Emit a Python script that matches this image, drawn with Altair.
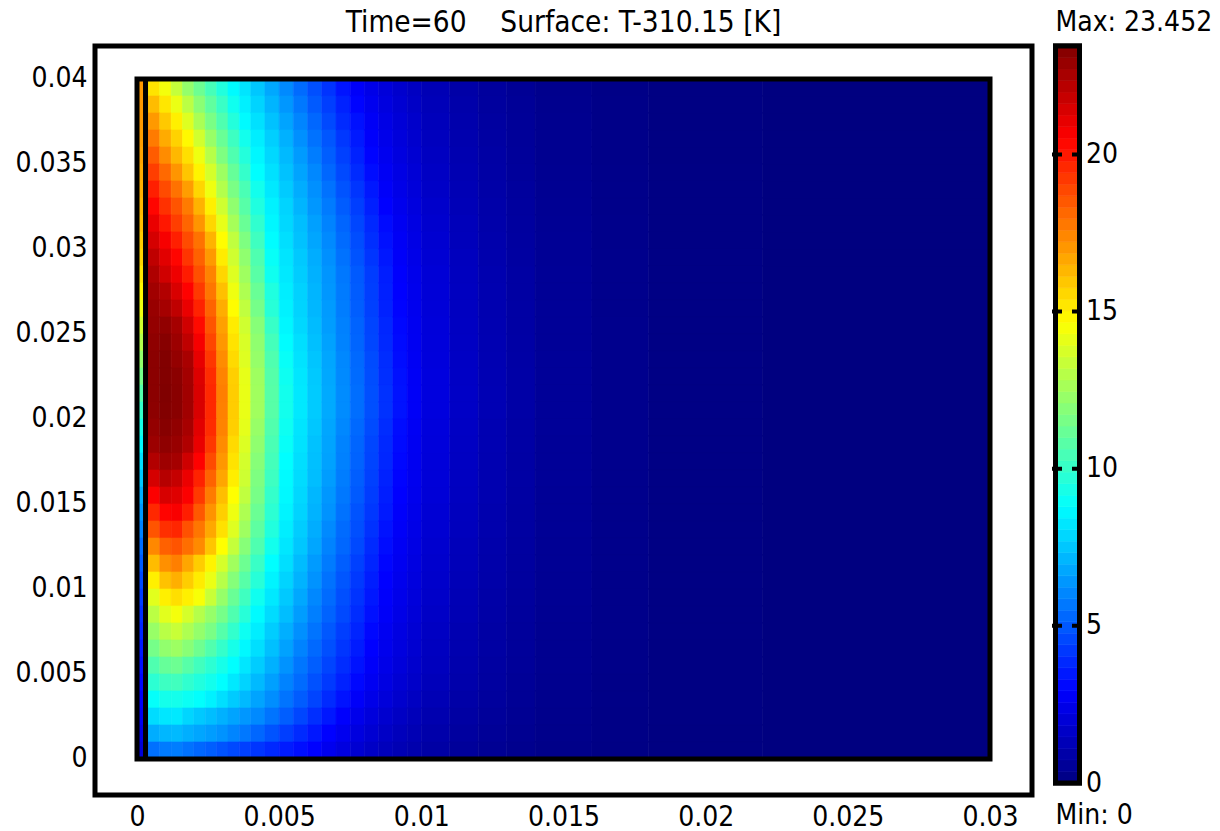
import altair as alt
import pandas as pd

# ---------------- data ----------------
# column edges of the temperature field (m); the strip 0..0.0003 is a separate layer
X_EDGES = [0.0003, 0.0008, 0.0012, 0.0016, 0.0020, 0.0024, 0.0028, 0.0032, 0.0036, 0.0040,
           0.0045, 0.0050, 0.0055, 0.0060, 0.0065, 0.0070, 0.0075, 0.0080, 0.0085, 0.0090,
           0.0095, 0.0100, 0.0110, 0.0120, 0.0130, 0.0140, 0.0160, 0.0180, 0.0220, 0.0300]
# row edges (m), top to bottom
Y_EDGES = [0.040, 0.039, 0.038, 0.037, 0.036, 0.035, 0.034, 0.033, 0.032, 0.031,
           0.030, 0.029, 0.028, 0.027, 0.026, 0.025, 0.024, 0.023, 0.022, 0.021,
           0.020, 0.019, 0.018, 0.017, 0.016, 0.015, 0.014, 0.013, 0.012, 0.011,
           0.010, 0.009, 0.008, 0.007, 0.006, 0.005, 0.004, 0.003, 0.002, 0.001, 0.000]

# T-310.15 [K] per cell, one list per row (row centre y in the name), top to bottom
T_0395 = [15.3, 14.4, 13.3, 12.2, 11.3, 10.4, 9.55, 8.7, 8.2, 7.5, 6.8, 6.1, 5.4, 4.75, 4.1, 3.4, 2.8, 2.41, 2.07, 1.78, 1.53, 1.22, 0.9, 0.66, 0.49, 0.31, 0.17, 0.07, 0.01]
T_0385 = [16.2, 15.2, 14.2, 13.1, 12.0, 11.0, 10.1, 9.15, 8.45, 7.8, 7.1, 6.4, 5.7, 5.0, 4.35, 3.7, 3.0, 2.56, 2.2, 1.89, 1.62, 1.29, 0.96, 0.7, 0.52, 0.33, 0.18, 0.07, 0.01]
T_0375 = [17.0, 15.9, 15.0, 13.9, 12.7, 11.6, 10.6, 9.6, 8.7, 8.1, 7.4, 6.7, 6.0, 5.3, 4.6, 3.9, 3.3, 2.72, 2.34, 2.01, 1.73, 1.37, 1.01, 0.75, 0.55, 0.35, 0.19, 0.08, 0.01]
T_0365 = [17.7, 16.6, 15.7, 14.8, 13.6, 12.3, 11.2, 10.2, 9.2, 8.4, 7.7, 7.0, 6.25, 5.55, 4.9, 4.2, 3.5, 2.84, 2.44, 2.1, 1.8, 1.44, 1.06, 0.78, 0.58, 0.37, 0.2, 0.08, 0.01]
T_0355 = [18.4, 17.3, 16.3, 15.4, 14.3, 13.0, 11.7, 10.6, 9.6, 8.6, 7.9, 7.2, 6.5, 5.8, 5.1, 4.4, 3.7, 3.0, 2.56, 2.2, 1.89, 1.5, 1.11, 0.82, 0.61, 0.38, 0.21, 0.08, 0.01]
T_0345 = [19.1, 18.1, 17.1, 16.0, 14.9, 13.7, 12.4, 11.15, 10.0, 8.8, 8.1, 7.4, 6.7, 6.05, 5.3, 4.6, 3.9, 3.2, 2.68, 2.3, 1.98, 1.58, 1.16, 0.86, 0.63, 0.4, 0.22, 0.09, 0.01]
T_0335 = [19.8, 18.8, 17.9, 16.9, 15.6, 14.3, 12.9, 11.6, 10.5, 9.2, 8.3, 7.6, 6.9, 6.25, 5.55, 4.85, 4.15, 3.45, 2.8, 2.41, 2.07, 1.65, 1.22, 0.9, 0.66, 0.42, 0.23, 0.09, 0.01]
T_0325 = [20.4, 19.4, 18.6, 17.7, 16.4, 15.0, 13.55, 12.1, 10.8, 9.5, 8.5, 7.8, 7.1, 6.4, 5.75, 5.05, 4.35, 3.65, 2.93, 2.52, 2.16, 1.73, 1.27, 0.94, 0.69, 0.44, 0.24, 0.1, 0.01]
T_0315 = [21.0, 20.0, 19.1, 18.2, 17.1, 15.6, 14.1, 12.6, 11.2, 9.9, 8.6, 7.9, 7.3, 6.6, 5.95, 5.25, 4.55, 3.85, 3.15, 2.64, 2.26, 1.8, 1.33, 0.98, 0.72, 0.46, 0.25, 0.1, 0.01]
T_0305 = [21.5, 20.7, 19.8, 18.8, 17.9, 16.4, 14.7, 13.2, 11.7, 10.25, 8.75, 8.05, 7.4, 6.75, 6.1, 5.4, 4.7, 4.0, 3.3, 2.72, 2.34, 1.86, 1.37, 1.01, 0.75, 0.48, 0.26, 0.1, 0.01]
T_0295 = [22.0, 21.2, 20.4, 19.3, 18.3, 17.0, 15.1, 13.55, 12.1, 10.6, 8.95, 8.2, 7.55, 6.9, 6.25, 5.55, 4.85, 4.15, 3.45, 2.8, 2.41, 1.92, 1.42, 1.04, 0.77, 0.49, 0.27, 0.11, 0.01]
T_0285 = [22.4, 21.6, 20.9, 19.9, 18.7, 17.5, 15.6, 13.9, 12.45, 10.85, 9.15, 8.3, 7.65, 7.0, 6.35, 5.7, 5.0, 4.3, 3.6, 2.88, 2.48, 1.98, 1.46, 1.08, 0.8, 0.51, 0.28, 0.11, 0.01]
T_0275 = [22.7, 22.3, 21.4, 20.5, 19.2, 17.8, 16.1, 14.3, 12.8, 11.2, 9.5, 8.4, 7.75, 7.1, 6.4, 5.75, 5.05, 4.35, 3.65, 2.93, 2.52, 2.01, 1.48, 1.1, 0.81, 0.51, 0.28, 0.11, 0.01]
T_0265 = [22.9, 22.6, 22.0, 21.0, 19.75, 18.25, 16.55, 14.7, 13.2, 11.5, 9.7, 8.5, 7.8, 7.15, 6.5, 5.8, 5.1, 4.4, 3.7, 3.0, 2.56, 2.04, 1.5, 1.11, 0.82, 0.52, 0.28, 0.11, 0.01]
T_0255 = [23.0, 23.05, 22.6, 21.6, 20.3, 18.6, 16.85, 15.1, 13.55, 11.9, 10.05, 8.6, 7.9, 7.25, 6.55, 5.9, 5.2, 4.5, 3.8, 3.1, 2.6, 2.07, 1.53, 1.13, 0.83, 0.53, 0.29, 0.12, 0.01]
T_0245 = [23.1, 23.3, 22.8, 22.0, 20.7, 18.9, 17.05, 15.3, 13.75, 12.1, 10.35, 8.75, 8.05, 7.35, 6.65, 5.95, 5.25, 4.55, 3.85, 3.15, 2.64, 2.1, 1.55, 1.15, 0.85, 0.54, 0.29, 0.12, 0.01]
T_0235 = [23.2, 23.4, 23.0, 22.5, 21.05, 19.25, 17.3, 15.5, 13.9, 12.25, 10.6, 8.95, 8.15, 7.45, 6.75, 6.05, 5.35, 4.65, 3.95, 3.2, 2.68, 2.13, 1.58, 1.16, 0.86, 0.55, 0.3, 0.12, 0.01]
T_0225 = [23.2, 23.4, 23.2, 22.65, 21.3, 19.5, 17.5, 15.75, 14.1, 12.45, 10.75, 9.1, 8.25, 7.55, 6.8, 6.1, 5.4, 4.7, 4.0, 3.3, 2.72, 2.16, 1.6, 1.18, 0.87, 0.55, 0.3, 0.12, 0.01]
T_0215 = [23.2, 23.45, 23.25, 22.7, 21.4, 19.6, 17.6, 15.8, 14.15, 12.5, 10.8, 9.2, 8.3, 7.6, 6.85, 6.15, 5.45, 4.75, 4.05, 3.35, 2.75, 2.17, 1.61, 1.19, 0.88, 0.56, 0.3, 0.12, 0.01]
T_0205 = [23.15, 23.4, 23.25, 22.7, 21.4, 19.6, 17.55, 15.8, 14.15, 12.5, 10.8, 9.2, 8.3, 7.6, 6.85, 6.15, 5.45, 4.75, 4.05, 3.35, 2.75, 2.17, 1.61, 1.19, 0.88, 0.56, 0.3, 0.12, 0.01]
T_0195 = [23.0, 23.3, 23.05, 22.55, 21.2, 19.5, 17.5, 15.75, 14.05, 12.3, 10.65, 9.1, 8.2, 7.5, 6.75, 6.05, 5.35, 4.65, 3.95, 3.2, 2.68, 2.13, 1.58, 1.16, 0.86, 0.55, 0.3, 0.12, 0.01]
T_0185 = [22.8, 23.1, 22.9, 22.35, 21.0, 19.25, 17.3, 15.5, 13.85, 12.1, 10.5, 8.95, 8.15, 7.4, 6.7, 5.95, 5.25, 4.55, 3.85, 3.15, 2.64, 2.1, 1.55, 1.15, 0.85, 0.54, 0.29, 0.12, 0.01]
T_0175 = [22.3, 22.75, 22.6, 21.65, 20.5, 18.8, 17.05, 15.3, 13.65, 11.9, 10.35, 8.8, 8.05, 7.35, 6.65, 5.9, 5.2, 4.5, 3.8, 3.1, 2.6, 2.07, 1.53, 1.13, 0.83, 0.53, 0.29, 0.12, 0.01]
T_0165 = [21.5, 22.2, 21.85, 20.95, 19.75, 18.25, 16.7, 15.05, 13.5, 11.7, 10.2, 8.7, 8.0, 7.3, 6.55, 5.8, 5.1, 4.4, 3.7, 3.0, 2.56, 2.04, 1.5, 1.11, 0.82, 0.52, 0.28, 0.11, 0.01]
T_0155 = [20.6, 21.45, 21.25, 20.6, 19.2, 17.7, 16.15, 14.65, 13.2, 11.55, 10.0, 8.65, 7.9, 7.15, 6.4, 5.7, 5.0, 4.3, 3.6, 2.93, 2.52, 2.01, 1.48, 1.1, 0.81, 0.51, 0.28, 0.11, 0.01]
T_0145 = [19.6, 20.45, 20.65, 19.85, 18.5, 17.15, 15.75, 14.3, 12.8, 11.25, 9.8, 8.55, 7.8, 7.05, 6.3, 5.55, 4.85, 4.2, 3.5, 2.84, 2.44, 1.95, 1.44, 1.06, 0.79, 0.5, 0.27, 0.11, 0.01]
T_0135 = [18.6, 19.45, 19.65, 18.65, 17.8, 16.65, 15.35, 13.9, 12.45, 10.95, 9.55, 8.4, 7.65, 6.9, 6.1, 5.4, 4.75, 4.05, 3.35, 2.76, 2.37, 1.89, 1.4, 1.03, 0.76, 0.48, 0.26, 0.1, 0.01]
T_0125 = [17.4, 18.3, 18.6, 18.0, 17.35, 16.0, 14.65, 13.3, 11.9, 10.6, 9.2, 8.25, 7.5, 6.75, 5.95, 5.3, 4.6, 3.9, 3.2, 2.68, 2.3, 1.83, 1.35, 1.0, 0.74, 0.47, 0.25, 0.1, 0.01]
T_0115 = [16.2, 17.2, 17.6, 16.7, 15.8, 14.9, 13.7, 12.5, 11.3, 10.1, 8.8, 8.05, 7.25, 6.5, 5.75, 5.1, 4.4, 3.75, 3.05, 2.6, 2.23, 1.78, 1.31, 0.97, 0.72, 0.46, 0.25, 0.1, 0.01]
T_0105 = [15.0, 16.05, 16.5, 15.8, 15.1, 14.2, 13.0, 11.85, 10.8, 9.7, 8.55, 7.8, 7.05, 6.3, 5.55, 4.9, 4.25, 3.6, 2.93, 2.52, 2.16, 1.73, 1.27, 0.94, 0.69, 0.44, 0.24, 0.1, 0.01]
T_0095 = [14.0, 15.0, 15.4, 15.0, 14.5, 13.4, 12.25, 11.2, 10.25, 9.15, 8.3, 7.55, 6.8, 6.05, 5.4, 4.75, 4.1, 3.45, 2.84, 2.44, 2.1, 1.68, 1.23, 0.91, 0.67, 0.43, 0.23, 0.09, 0.01]
T_0085 = [13.1, 14.0, 14.4, 13.7, 12.95, 12.25, 11.5, 10.6, 9.7, 8.7, 8.0, 7.3, 6.55, 5.85, 5.2, 4.6, 3.95, 3.3, 2.76, 2.37, 2.04, 1.62, 1.2, 0.88, 0.65, 0.42, 0.23, 0.09, 0.01]
T_0075 = [12.3, 13.05, 13.4, 12.8, 12.2, 11.6, 10.75, 9.95, 9.1, 8.4, 7.65, 6.95, 6.25, 5.6, 4.95, 4.35, 3.75, 3.1, 2.64, 2.26, 1.95, 1.55, 1.14, 0.84, 0.62, 0.4, 0.22, 0.09, 0.01]
T_0065 = [11.5, 12.15, 12.4, 11.95, 11.35, 10.65, 10.0, 9.3, 8.65, 8.05, 7.35, 6.65, 5.95, 5.35, 4.75, 4.15, 3.55, 2.93, 2.52, 2.16, 1.86, 1.48, 1.09, 0.81, 0.6, 0.38, 0.21, 0.08, 0.01]
T_0055 = [10.6, 11.15, 11.3, 10.8, 10.3, 9.8, 9.3, 8.8, 8.25, 7.65, 7.0, 6.3, 5.65, 5.1, 4.5, 3.95, 3.35, 2.8, 2.41, 2.07, 1.78, 1.42, 1.05, 0.77, 0.57, 0.36, 0.2, 0.08, 0.01]
T_0045 = [9.8, 10.2, 10.3, 9.9, 9.55, 9.2, 8.8, 8.3, 7.8, 7.2, 6.6, 5.95, 5.4, 4.8, 4.25, 3.7, 3.1, 2.64, 2.26, 1.95, 1.68, 1.33, 0.99, 0.73, 0.54, 0.34, 0.19, 0.07, 0.01]
T_0035 = [8.9, 9.25, 9.25, 9.05, 8.85, 8.5, 8.05, 7.6, 7.2, 6.7, 6.2, 5.6, 5.05, 4.5, 3.9, 3.35, 2.8, 2.41, 2.07, 1.78, 1.53, 1.22, 0.9, 0.66, 0.49, 0.31, 0.17, 0.07, 0.01]
T_0025 = [8.0, 8.25, 8.3, 7.85, 7.55, 7.3, 7.0, 6.7, 6.4, 6.1, 5.6, 5.1, 4.55, 4.0, 3.45, 2.88, 2.48, 2.13, 1.83, 1.58, 1.35, 1.08, 0.8, 0.59, 0.44, 0.28, 0.15, 0.06, 0.01]
T_0015 = [6.9, 7.15, 7.2, 6.95, 6.75, 6.55, 6.3, 6.0, 5.7, 5.3, 4.85, 4.35, 3.9, 3.45, 2.95, 2.56, 2.2, 1.89, 1.62, 1.39, 1.2, 0.96, 0.71, 0.52, 0.39, 0.25, 0.13, 0.05, 0.01]
T_0005 = [5.5, 5.75, 5.8, 5.55, 5.3, 5.1, 4.85, 4.6, 4.4, 4.15, 3.85, 3.55, 3.25, 2.95, 2.56, 2.2, 1.89, 1.62, 1.39, 1.2, 1.03, 0.82, 0.61, 0.45, 0.33, 0.21, 0.11, 0.05, 0.01]

T_ROWS = [T_0395, T_0385, T_0375, T_0365, T_0355, T_0345, T_0335, T_0325, T_0315, T_0305,
          T_0295, T_0285, T_0275, T_0265, T_0255, T_0245, T_0235, T_0225, T_0215, T_0205,
          T_0195, T_0185, T_0175, T_0165, T_0155, T_0145, T_0135, T_0125, T_0115, T_0105,
          T_0095, T_0085, T_0075, T_0065, T_0055, T_0045, T_0035, T_0025, T_0015, T_0005]

# thin strip at the left (x from 0 to 0.0003), one value per row, top to bottom
STRIP_X = [0.0, 0.0003]
STRIP_T = [17.0, 17.0, 17.0, 16.9, 16.8, 16.6, 16.5, 16.3, 16.1, 15.8,
           15.6, 15.2, 14.8, 14.3, 13.6, 12.9, 12.2, 11.5, 10.7, 10.0,
           9.3, 8.7, 8.1, 7.5, 6.9, 6.4, 5.9, 5.4, 5.0, 4.6,
           4.3, 4.0, 3.8, 3.5, 3.3, 3.1, 2.8, 2.6, 2.3, 2.0]

DOMAIN_X = [0.0, 0.03]
DOMAIN_Y = [0.0, 0.04]
T_MIN, T_MAX = 0.0, 23.452

X_TICKS = [0, 0.005, 0.01, 0.015, 0.02, 0.025, 0.03]
Y_TICKS = [0, 0.005, 0.01, 0.015, 0.02, 0.025, 0.03, 0.035, 0.04]
CB_TICKS = [5, 10, 15, 20]
CB_LABELS = [0, 5, 10, 15, 20]

TITLE = "Time=60\u00a0\u00a0\u00a0\u00a0Surface: T-310.15 [K]"

# ---------------- styling ----------------
FONT = "DejaVu Sans Condensed, DejaVu Sans, sans-serif"
FS = 28
X_RANGE = [-0.001477, 0.031477]
Y_RANGE = [-0.002118, 0.04194]

JET = alt.Scale(
    domain=[T_MAX * f for f in (0, 0.125, 0.375, 0.625, 0.875, 1.0)],
    range=["#000080", "#0000ff", "#00ffff", "#ffff00", "#ff0000", "#800000"],
    interpolate="rgb", clamp=True)

# ---------------- tables ----------------
cells = []
for i, row in enumerate(T_ROWS):
    for j, t in enumerate(row[: len(X_EDGES) - 1]):
        cells.append({"x0": X_EDGES[j], "x1": X_EDGES[j + 1],
                      "y0": Y_EDGES[i + 1], "y1": Y_EDGES[i], "t": t})
field_df = pd.DataFrame(cells)

strip_df = pd.DataFrame({"x0": STRIP_X[0], "x1": STRIP_X[1],
                         "y0": Y_EDGES[1:], "y1": Y_EDGES[:-1], "t": STRIP_T})

box_df = pd.DataFrame({"x0": [DOMAIN_X[0]], "x1": [DOMAIN_X[1]],
                       "y0": [DOMAIN_Y[0]], "y1": [DOMAIN_Y[1]]})
div_df = pd.DataFrame({"x": [STRIP_X[1]], "y0": [DOMAIN_Y[0]], "y1": [DOMAIN_Y[1]]})

xs = alt.Scale(domain=X_RANGE, nice=False, zero=False)
ys = alt.Scale(domain=Y_RANGE, nice=False, zero=False)

xaxis = alt.Axis(values=X_TICKS, format="~f", ticks=False, domain=False, grid=False,
                 labelFont=FONT, labelFontSize=FS, labelColor="black",
                 labelPadding=8, labelFlush=False, labelOverlap=False)
yaxis = alt.Axis(values=Y_TICKS, format="~f", ticks=False, domain=False, grid=False,
                 labelFont=FONT, labelFontSize=FS, labelColor="black",
                 labelPadding=8, labelFlush=False, labelOverlap=False)

field = alt.Chart(field_df).mark_rect(strokeWidth=0.6).encode(
    x=alt.X("x0:Q", scale=xs, axis=xaxis, title=None),
    x2="x1:Q",
    y=alt.Y("y0:Q", scale=ys, axis=yaxis, title=None),
    y2="y1:Q",
    color=alt.Color("t:Q", scale=JET, legend=None),
    stroke=alt.Stroke("t:Q", scale=JET, legend=None),
)

strip = alt.Chart(strip_df).mark_rect(strokeWidth=0.6).encode(
    x="x0:Q", x2="x1:Q", y="y0:Q", y2="y1:Q",
    color=alt.Color("t:Q", scale=JET, legend=None),
    stroke=alt.Stroke("t:Q", scale=JET, legend=None),
)

box = alt.Chart(box_df).mark_rect(filled=False, stroke="black", strokeWidth=5).encode(
    x="x0:Q", x2="x1:Q", y="y0:Q", y2="y1:Q")

divider = alt.Chart(div_df).mark_rule(color="black", strokeWidth=5).encode(
    x="x:Q", y="y0:Q", y2="y1:Q")

main = alt.layer(field, strip, box, divider).properties(
    width=937, height=749,
    title=alt.TitleParams(TITLE, font=FONT, fontSize=29.5, fontWeight="normal",
                          color="black", anchor="middle", offset=8),
)

# ---------------- colour bar ----------------
STEP = T_MAX / 64
cbs = alt.Scale(domain=[T_MIN, T_MAX], nice=False, zero=False)
cbaxis = alt.Axis(values=CB_LABELS, orient="right", ticks=False, domain=False, grid=False,
                  labelFont=FONT, labelFontSize=FS, labelColor="black",
                  labelPadding=6, labelOffset=0, format="d", labelFlush=False)

bands = alt.Chart(alt.sequence(T_MIN, T_MAX, STEP, as_="v")).transform_calculate(
    v2=f"min(datum.v + {STEP}, {T_MAX})", vm=f"datum.v + {STEP / 2}"
).mark_rect(strokeWidth=0.6).encode(
    y=alt.Y("v:Q", scale=cbs, axis=cbaxis, title=None),
    y2="v2:Q",
    color=alt.Color("vm:Q", scale=JET, legend=None),
    stroke=alt.Stroke("vm:Q", scale=JET, legend=None),
)

cb_box = alt.Chart(pd.DataFrame({"lo": [T_MIN], "hi": [T_MAX]})).mark_rect(
    filled=False, stroke="black", strokeWidth=5).encode(y="lo:Q", y2="hi:Q")

cb_ticks = alt.Chart(pd.DataFrame({"v": CB_TICKS})).mark_rule(
    color="black", strokeWidth=4, strokeDash=[10, 10]).encode(
    y="v:Q", x=alt.value(-3.5), x2=alt.value(27.5))

ext_df = pd.DataFrame({"v": [T_MAX, T_MIN],
                       "label": [f"Max: {T_MAX:g}", f"Min: {T_MIN:g}"]})
max_txt = alt.Chart(ext_df.iloc[[0]]).mark_text(
    align="left", baseline="middle", dy=-23, font=FONT, fontSize=FS, color="black").encode(
    y="v:Q", x=alt.value(0), text="label:N")
min_txt = alt.Chart(ext_df.iloc[[1]]).mark_text(
    align="left", baseline="middle", dy=33, font=FONT, fontSize=FS, color="black").encode(
    y="v:Q", x=alt.value(0), text="label:N")

cbar = alt.layer(bands, cb_box, cb_ticks, max_txt, min_txt).properties(width=24, height=737)

chart = alt.hconcat(main, cbar, spacing=23.5, bounds="flush").properties(
    padding={"left": 12, "top": 5, "right": 0, "bottom": 0}
).configure_view(stroke="black", strokeWidth=5)

chart.save("out.html", embed_options={"renderer": "svg", "actions": False})
